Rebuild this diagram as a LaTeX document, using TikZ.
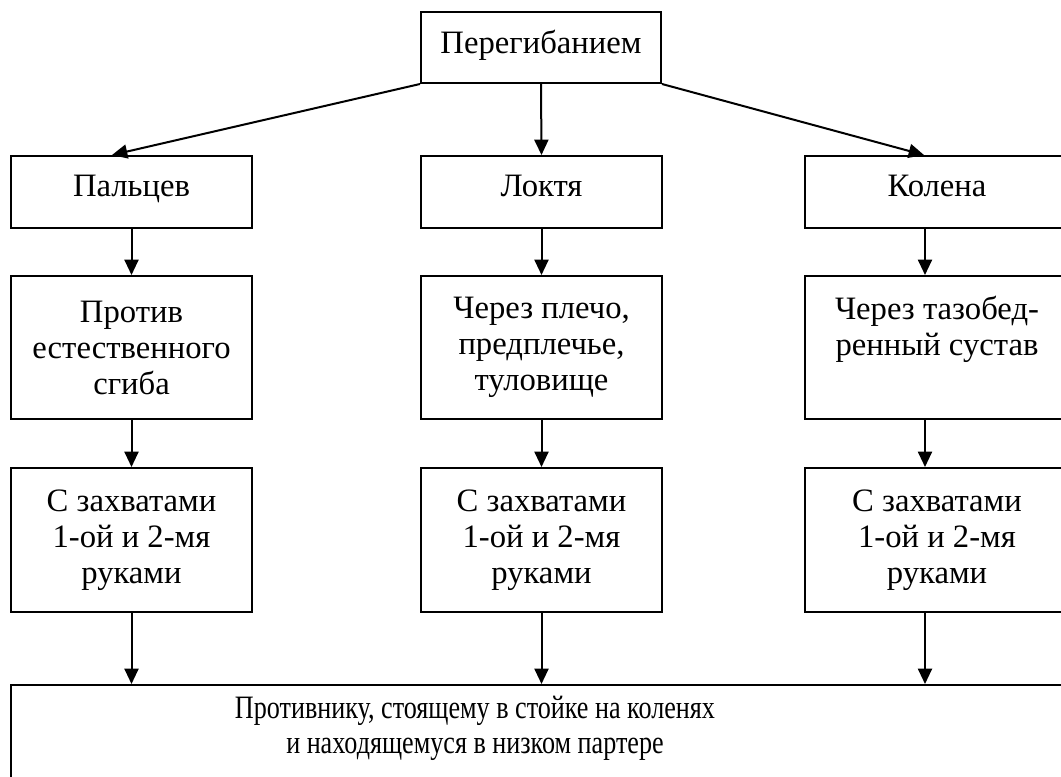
\documentclass[tikz,border=0pt]{standalone}
\usepackage{fontspec}
\setmainfont{Liberation Serif}
\newfontfamily\condfont[FakeStretch=0.8]{Liberation Serif}
\usetikzlibrary{arrows.meta,calc}
\begin{document}
\begin{tikzpicture}[x=0.75pt,y=-0.75pt,
  box/.style={draw,line width=1.5pt,rectangle,inner sep=0pt,align=center,
    font=\fontsize{24.5pt}{27pt}\selectfont},
  onebox/.style={box,text height=16pt,text depth=9pt},
  lbl/.style={inner sep=0pt,align=center,font=\condfont\fontsize{24.5pt}{26.25pt}\selectfont},
  arr/.style={line width=1.5pt,-{Triangle[length=11.5pt,width=10.5pt]}}]
\useasboundingbox (0,0) rectangle (1061,776);
\clip (0,0) rectangle (1061,776);
% top
\node[box,text height=17pt,text depth=8.3pt,minimum width=180pt,minimum height=53.25pt] (top) at (541,47.5) {Перегибанием};
% row 1
\node[onebox,minimum width=180.75pt,minimum height=54pt] (pal) at (131.5,192) {Пальцев};
\node[onebox,minimum width=180.75pt,minimum height=54pt] (lok) at (541.5,192) {Локтя};
\node[onebox,minimum width=198pt,minimum height=54pt] (kol) at (937,192) {Колена};
% row 2
\node[box,minimum width=180.75pt,minimum height=107.25pt] (prot) at (131.5,347.5) {Против\\естественного\\сгиба};
\node[box,minimum width=180.75pt,minimum height=107.25pt] (cher) at (541.5,347.5) {Через плечо,\\предплечье,\\туловище};
\node[box,minimum width=198pt,minimum height=107.25pt] (taz) at (937,347.5) {Через тазобед-\\ренный сустав\\\phantom{у}};
% row 3
\node[box,minimum width=180.75pt,minimum height=108pt] (zl) at (131.5,540) {С захватами\\1-ой и 2-мя\\руками};
\node[box,minimum width=180.75pt,minimum height=108pt] (zm) at (541.5,540) {С захватами\\1-ой и 2-мя\\руками};
\node[box,minimum width=198pt,minimum height=108pt] (zr) at (937,540) {С захватами\\1-ой и 2-мя\\руками};
% bottom
\node[box,minimum width=806.25pt,minimum height=87pt,anchor=north west] (bot) at (10,684) {};
\node[lbl] (bottxt) at (475,728.5) {Противнику, стоящему в стойке на коленях\\и находящемуся в низком партере};
% connectors
\draw[arr] (top.south west) -- ($(pal.north)+(-19.5,0)$);
\draw[arr] (top.south) -- (lok.north);
\draw[arr] (top.south east) -- ($(kol.north)+(-13,0)$);
\draw[arr] (pal.south) -- (prot.north);
\draw[arr] (lok.south) -- (cher.north);
\draw[arr] ($(kol.south)+(-12,0)$) -- ($(taz.north)+(-12,0)$);
\draw[arr] (prot.south) -- (zl.north);
\draw[arr] (cher.south) -- (zm.north);
\draw[arr] ($(taz.south)+(-12,0)$) -- ($(zr.north)+(-12,0)$);
\coordinate (rx) at ($(zr.south)+(-12,0)$);
\draw[arr] (zl.south) -- (zl.south |- bot.north);
\draw[arr] (zm.south) -- (zm.south |- bot.north);
\draw[arr] (rx) -- (rx |- bot.north);
\end{tikzpicture}
\end{document}
